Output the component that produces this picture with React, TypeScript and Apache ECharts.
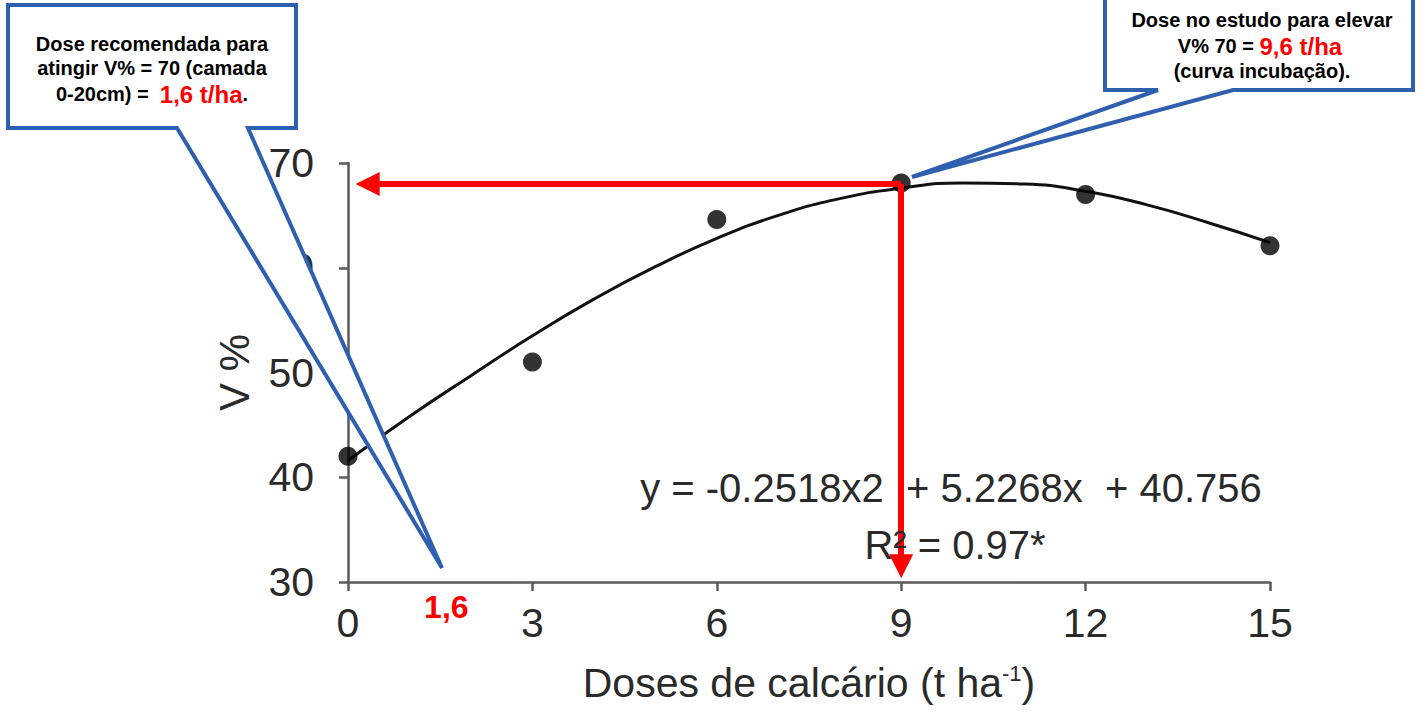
import React, { useEffect, useRef } from 'react';
import * as echarts from 'echarts';

// ---- data ----
const doses = [0, 3, 6, 9, 12, 15];
const vPercent = [42.0, 51.0, 64.6, 68.1, 67.0, 62.1];
const curveDoses = [0, 1, 2, 3, 4, 5, 6, 7, 8, 9, 10, 11, 12, 13, 14, 15];
const curveV = [41.6, 45.8, 49.7, 53.5, 57.0, 60.1, 62.8, 65.0, 66.6, 67.6, 68.1, 68.0, 67.3, 66.0, 64.3, 62.4];
const xAxisRange = { min: 0, max: 15, interval: 3 };
const yAxisRange = { min: 30, max: 70, interval: 10 };
const arrowOrigin = [9, 68];
const arrowLeftEnd = [0.32, 68];
const arrowDownEnd = [9, 31.5];
const recommendedDose = 1.6;
const recommendedLabel = '1,6';
const equationLine = 'y = -0.2518x2  + 5.2268x  + 40.756';
const r2Line = 'R² = 0.97*';
const xAxisTitle = 'Doses de calcário (t ha{sup|-1})';
const yAxisTitle = 'V %';

const FONT = "'Liberation Sans', Arial, Helvetica, sans-serif";
const BLUE = '#2f5faf';
const RED = '#ff0000';

export default function App() {
  const ref = useRef<HTMLDivElement>(null);

  useEffect(() => {
    if (!ref.current) return;
    const chart = echarts.init(ref.current, undefined, { renderer: 'svg' });

    const scatterData = doses.map((d, i) => [d, vPercent[i]]);
    const curveData = curveDoses.map((d, i) => [d, curveV[i]]);

    const axisLineStyle = { color: '#5a5a5a', width: 2.5 };

    const option: any = {
      animation: false,
      backgroundColor: '#ffffff',
      textStyle: { fontFamily: FONT },
      grid: { left: 348, right: 148, top: 163, bottom: 139, containLabel: false },
      xAxis: {
        type: 'value',
        min: xAxisRange.min,
        max: xAxisRange.max,
        interval: xAxisRange.interval,
        splitLine: { show: false },
        axisLine: { show: true, onZero: false, lineStyle: axisLineStyle },
        axisTick: { show: true, length: 9, lineStyle: axisLineStyle },
        axisLabel: { color: '#2a2a2a', fontSize: 41, fontFamily: FONT, margin: 20 },
        name: xAxisTitle,
        nameLocation: 'middle',
        nameGap: 80,
        nameTextStyle: {
          color: '#2a2a2a',
          fontSize: 41,
          fontFamily: FONT,
          rich: {
            sup: { fontSize: 22, fontFamily: FONT, color: '#2a2a2a', verticalAlign: 'top', padding: [0, 0, 18, 0] },
          },
        },
      },
      yAxis: {
        type: 'value',
        min: yAxisRange.min,
        max: yAxisRange.max,
        interval: yAxisRange.interval,
        splitLine: { show: false },
        axisLine: { show: true, onZero: false, lineStyle: axisLineStyle },
        axisTick: { show: true, length: 9, lineStyle: axisLineStyle },
        axisLabel: { color: '#2a2a2a', fontSize: 41, fontFamily: FONT, margin: 34 },
        name: yAxisTitle,
        nameLocation: 'middle',
        nameRotate: 90,
        nameGap: 93,
        nameTextStyle: { color: '#2a2a2a', fontSize: 42, fontFamily: FONT },
      },
      series: [
        {
          type: 'line',
          data: curveData,
          smooth: 0.5,
          showSymbol: false,
          symbol: 'none',
          lineStyle: { color: '#111', width: 3 },
          silent: true,
          z: 2,
        },
        {
          type: 'scatter',
          data: scatterData,
          symbol: 'circle',
          symbolSize: 19,
          itemStyle: { color: '#000' },
          silent: true,
          z: 3,
        },
        {
          type: 'line',
          data: [],
          silent: true,
          z: 5,
          markLine: {
            silent: true,
            symbol: ['none', 'triangle'],
            symbolSize: [24, 24],
            label: { show: false },
            lineStyle: { color: RED, width: 6, type: 'solid' },
            itemStyle: { color: RED },
            emphasis: { disabled: true },
            data: [
              [{ coord: arrowOrigin }, { coord: arrowLeftEnd }],
              [{ coord: arrowOrigin }, { coord: arrowDownEnd }],
            ],
          },
          markPoint: {
            silent: true,
            symbol: 'circle',
            symbolSize: 0,
            label: {
              show: true,
              formatter: recommendedLabel,
              color: RED,
              fontSize: 32,
              fontWeight: 'bold',
              fontFamily: FONT,
              offset: [0, 25],
            },
            data: [{ coord: [recommendedDose, yAxisRange.min] }],
          },
        },
      ],
      graphic: [
        {
          type: 'text',
          z: 50,
          x: 951,
          y: 488,
          style: {
            text: equationLine,
            fill: '#2a2a2a',
            font: `40px ${FONT}`,
            textAlign: 'center',
            textVerticalAlign: 'middle',
          },
        },
        {
          type: 'text',
          z: 50,
          x: 955,
          y: 545,
          style: {
            text: r2Line,
            fill: '#2a2a2a',
            font: `40px ${FONT}`,
            textAlign: 'center',
            textVerticalAlign: 'middle',
          },
        },
        // left callout
        {
          type: 'polygon',
          z: 100,
          shape: {
            points: [
              [8, 5], [296, 5], [296, 128], [248, 128], [442, 568], [177, 128], [8, 128],
            ],
          },
          style: { fill: '#ffffff', stroke: BLUE, lineWidth: 4, lineJoin: 'miter' },
        },
        {
          type: 'text',
          z: 101,
          x: 152,
          y: 44,
          style: {
            text: 'Dose recomendada para',
            fill: '#000',
            font: `bold 20px ${FONT}`,
            textAlign: 'center',
            textVerticalAlign: 'middle',
          },
        },
        {
          type: 'text',
          z: 101,
          x: 152,
          y: 68,
          style: {
            text: 'atingir V% = 70 (camada',
            fill: '#000',
            font: `bold 20px ${FONT}`,
            textAlign: 'center',
            textVerticalAlign: 'middle',
          },
        },
        {
          type: 'text',
          z: 101,
          x: 152,
          y: 94,
          style: {
            text: '{a|0-20cm) =  }{r|1,6 t/ha}{a|.}',
            textAlign: 'center',
            textVerticalAlign: 'middle',
            rich: {
              a: { fill: '#000', fontSize: 20, fontWeight: 'bold', fontFamily: FONT },
              r: { fill: RED, fontSize: 24, fontWeight: 'bold', fontFamily: FONT },
            },
          },
        },
        // right callout
        {
          type: 'polygon',
          z: 100,
          shape: {
            points: [
              [1105, -10], [1413, -10], [1413, 90], [1233, 90], [912, 177], [1158, 90], [1105, 90],
            ],
          },
          style: { fill: '#ffffff', stroke: BLUE, lineWidth: 4, lineJoin: 'miter' },
        },
        {
          type: 'text',
          z: 101,
          x: 1262,
          y: 20,
          style: {
            text: 'Dose no estudo para elevar',
            fill: '#000',
            font: `bold 20px ${FONT}`,
            textAlign: 'center',
            textVerticalAlign: 'middle',
          },
        },
        {
          type: 'text',
          z: 101,
          x: 1260,
          y: 46,
          style: {
            text: '{a|V% 70 = }{r|9,6 t/ha}',
            textAlign: 'center',
            textVerticalAlign: 'middle',
            rich: {
              a: { fill: '#000', fontSize: 20, fontWeight: 'bold', fontFamily: FONT },
              r: { fill: RED, fontSize: 24, fontWeight: 'bold', fontFamily: FONT },
            },
          },
        },
        {
          type: 'text',
          z: 101,
          x: 1262,
          y: 71,
          style: {
            text: '(curva incubação).',
            fill: '#000',
            font: `bold 20px ${FONT}`,
            textAlign: 'center',
            textVerticalAlign: 'middle',
          },
        },
      ],
    };

    chart.setOption(option);
    return () => {
      chart.dispose();
    };
  }, []);

  return (
    <div
      ref={ref}
      style={{ position: 'absolute', left: 0, top: 0, width: 1418, height: 721 }}
    />
  );
}
